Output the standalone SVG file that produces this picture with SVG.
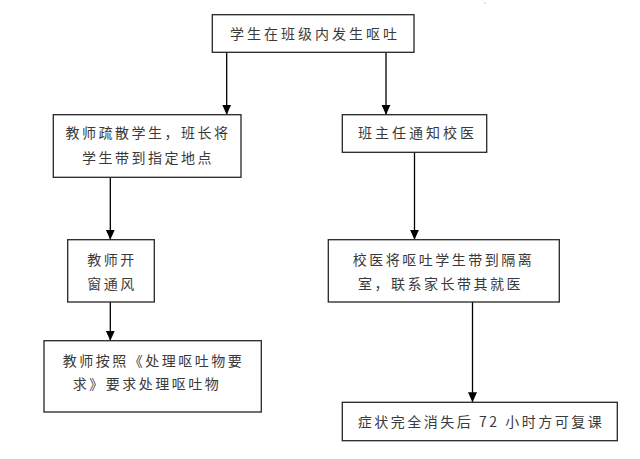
<svg xmlns="http://www.w3.org/2000/svg" width="640" height="459" viewBox="0 0 640 459">
  <defs>
    <style>
      .box { fill: #ffffff; stroke: #262626; stroke-width: 1.3; }
      .lbl { font-family: "Noto Sans CJK SC", "Liberation Sans", sans-serif; font-size: 14px; fill: #3a3a3a; text-anchor: middle; letter-spacing: 2.5px; }
      .edge { fill: none; stroke: #000000; stroke-width: 1.3; }
    </style>
    <marker id="arrow" markerUnits="userSpaceOnUse" markerWidth="10" markerHeight="12" viewBox="0 0 10 12" refX="10" refY="6" orient="auto">
      <path d="M0,1.5 L10,6 L0,10.5 Z" fill="#000000"/>
    </marker>
  </defs>
  <rect width="640" height="459" fill="#ffffff"/>
  <circle cx="485" cy="3" r="0.6" fill="#9a9a9a"/>

  <g id="connectors">
    <line class="edge" x1="226.7" y1="52.3" x2="226.7" y2="114.7" marker-end="url(#arrow)"/>
    <line class="edge" x1="386" y1="52.3" x2="386" y2="114.7" marker-end="url(#arrow)"/>
    <line class="edge" x1="110.3" y1="177.3" x2="110.3" y2="239.7" marker-end="url(#arrow)"/>
    <line class="edge" x1="414.5" y1="152.3" x2="414.5" y2="239.7" marker-end="url(#arrow)"/>
    <line class="edge" x1="110.3" y1="302" x2="110.3" y2="340.7" marker-end="url(#arrow)"/>
    <line class="edge" x1="472.5" y1="302" x2="472.5" y2="402.3" marker-end="url(#arrow)"/>
  </g>

  <g id="n1">
    <rect class="box" x="212.3" y="14.7" width="201.7" height="37.6"/>
    <text class="lbl" x="315" y="39" style="letter-spacing:3px">学生在班级内发生呕吐</text>
  </g>

  <g id="n2">
    <rect class="box" x="53.3" y="114.7" width="187.7" height="62.6"/>
    <text class="lbl" x="148" y="138">教师疏散学生，班长将</text>
    <text class="lbl" x="148" y="163">学生带到指定地点</text>
  </g>

  <g id="n3">
    <rect class="box" x="342.3" y="114.7" width="144.4" height="37.6"/>
    <text class="lbl" x="417.5" y="138" style="letter-spacing:3px">班主任通知校医</text>
  </g>

  <g id="n4">
    <rect class="box" x="67.7" y="239.7" width="86.6" height="62.3"/>
    <text class="lbl" x="112" y="265">教师开</text>
    <text class="lbl" x="112" y="289">窗通风</text>
  </g>

  <g id="n5">
    <rect class="box" x="328.3" y="239.7" width="231" height="62.3"/>
    <text class="lbl" x="443.5" y="265">校医将呕吐学生带到隔离</text>
    <text class="lbl" x="440.5" y="289">室，联系家长带其就医</text>
  </g>

  <g id="n6">
    <rect class="box" x="44" y="340.7" width="217.3" height="71.3"/>
    <text class="lbl" x="153.5" y="366">教师按照《处理呕吐物要</text>
    <text class="lbl" x="147" y="389">求》要求处理呕吐物</text>
  </g>

  <g id="n7">
    <rect class="box" x="342.3" y="402.3" width="275" height="38.4"/>
    <text class="lbl" x="481" y="426.5">症状完全消失后 72 小时方可复课</text>
  </g>
</svg>
